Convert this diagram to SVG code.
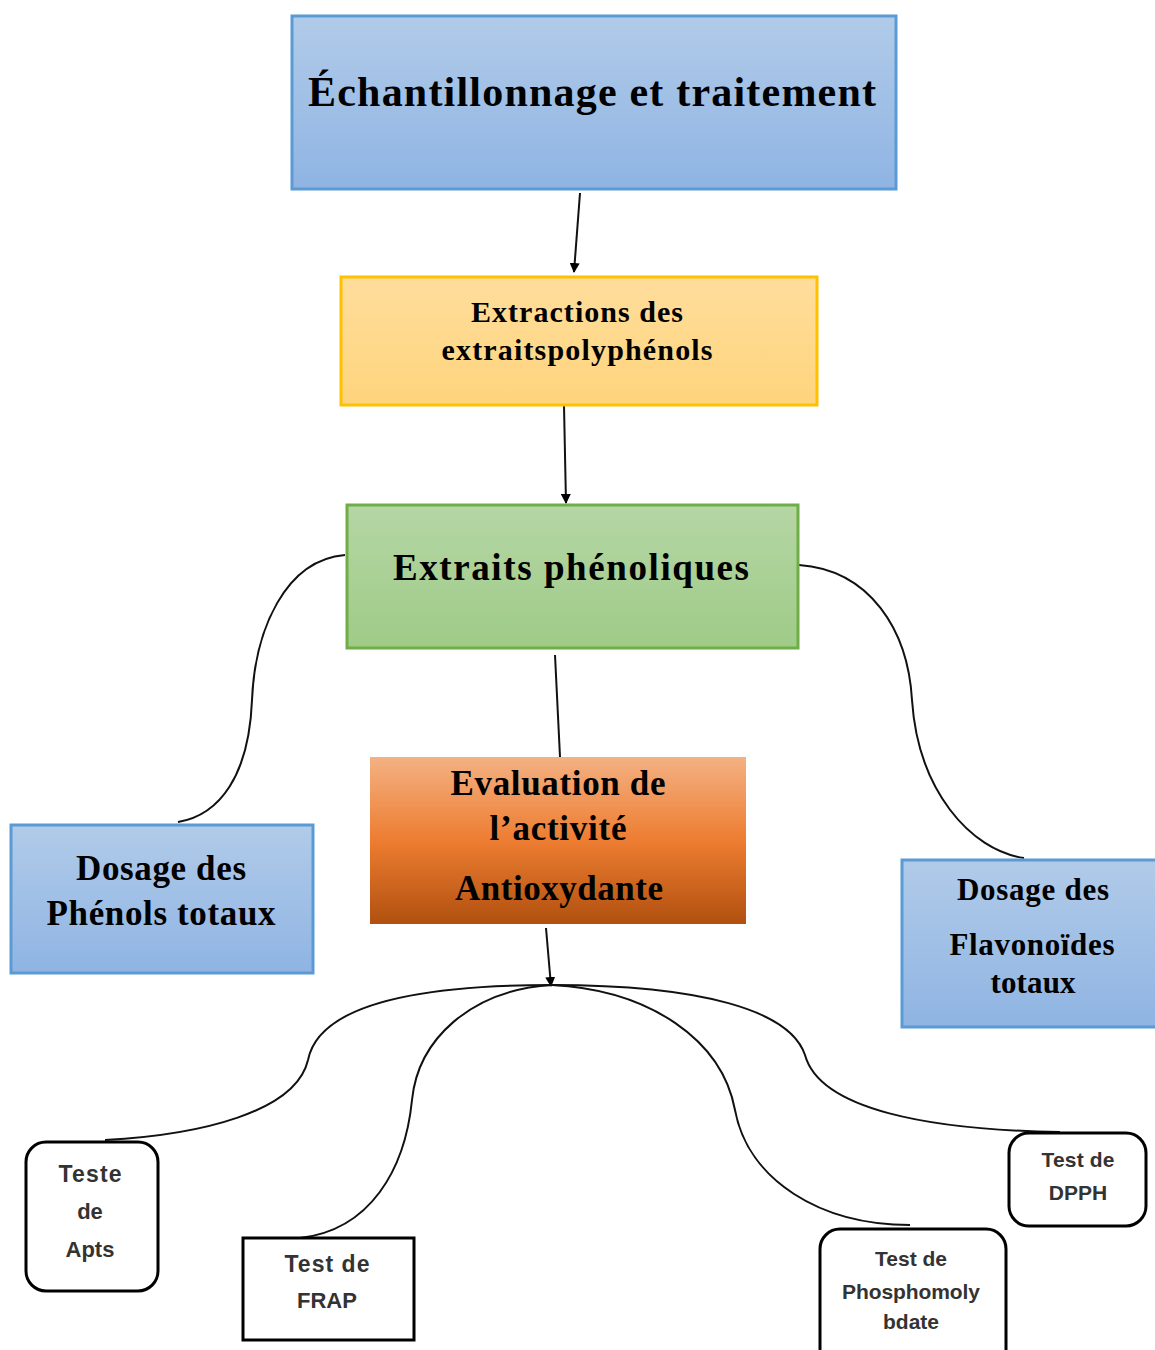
<svg xmlns="http://www.w3.org/2000/svg" width="1155" height="1350" viewBox="0 0 1155 1350">
<defs>
<linearGradient id="gBlue" x1="0" y1="0" x2="0" y2="1"><stop offset="0" stop-color="#b1cbe9"/><stop offset="1" stop-color="#8fb4e3"/></linearGradient>
<linearGradient id="gYellow" x1="0" y1="0" x2="0" y2="1"><stop offset="0" stop-color="#ffdd9c"/><stop offset="1" stop-color="#fed47c"/></linearGradient>
<linearGradient id="gGreen" x1="0" y1="0" x2="0" y2="1"><stop offset="0" stop-color="#b5d6a5"/><stop offset="1" stop-color="#9fcb87"/></linearGradient>
<linearGradient id="gOrange" x1="0" y1="0" x2="0" y2="1"><stop offset="0" stop-color="#f4b183"/><stop offset="0.5" stop-color="#ed7d31"/><stop offset="1" stop-color="#b1500f"/></linearGradient>
<marker id="arr" viewBox="0 0 10 10" refX="9" refY="5" markerWidth="5" markerHeight="5" orient="auto"><path d="M0,0 L10,5 L0,10 z" fill="#000"/></marker>
</defs>
<style>
.t{font-family:"Liberation Serif","Times New Roman",serif;font-weight:bold;fill:#000;text-anchor:middle}
.s{font-family:"Liberation Sans",Arial,sans-serif;font-weight:bold;fill:#333;text-anchor:middle;font-size:21px}
.c{fill:none;stroke:#111;stroke-width:2}
.bx{fill:#fff;stroke:#000;stroke-width:3}
</style>
<g id="connectors">
<path class="c" d="M580,193 L574,272" marker-end="url(#arr)"/>
<path class="c" d="M564,406 L566,503" marker-end="url(#arr)"/>
<path class="c" d="M555,655 L560,757"/>
<path class="c" d="M546,928 L551,986" marker-end="url(#arr)"/>
<path class="c" d="M345,555 C 285,560 255,630 252,700 C 249,775 220,815 178,822"/>
<path class="c" d="M799,565 C 870,570 908,630 912,700 C 918,790 970,850 1024,858"/>
<path class="c" d="M552,985 C 400,985 318,1010 308,1060 C 296,1112 200,1135 105,1140"/>
<path class="c" d="M552,985 C 470,990 418,1040 412,1100 C 405,1170 370,1230 300,1238"/>
<path class="c" d="M552,985 C 650,990 722,1040 735,1110 C 748,1180 820,1225 910,1225"/>
<path class="c" d="M552,985 C 700,985 790,1010 805,1055 C 820,1110 930,1130 1060,1132"/>
</g>
<g id="n1">
<rect x="292" y="16" width="604" height="173" fill="url(#gBlue)" stroke="#5b9bd5" stroke-width="3"/>
<text class="t" x="592" y="106" font-size="42" textLength="568" lengthAdjust="spacing">Échantillonnage et traitement</text>
</g>
<g id="n2">
<rect x="341" y="277" width="476" height="128" fill="url(#gYellow)" stroke="#ffc000" stroke-width="3"/>
<text class="t" x="577" y="322" font-size="30" textLength="212" lengthAdjust="spacing">Extractions des</text>
<text class="t" x="577" y="360" font-size="30" textLength="271" lengthAdjust="spacing">extraitspolyphénols</text>
</g>
<g id="n3">
<rect x="347" y="505" width="451" height="143" fill="url(#gGreen)" stroke="#70ad47" stroke-width="3"/>
<text class="t" x="571" y="580" font-size="37" textLength="356" lengthAdjust="spacing">Extraits phénoliques</text>
</g>
<g id="n4">
<rect x="370" y="757" width="376" height="167" fill="url(#gOrange)"/>
<text class="t" x="558" y="795" font-size="35" textLength="215" lengthAdjust="spacing">Evaluation de</text>
<text class="t" x="558" y="840" font-size="35" textLength="137" lengthAdjust="spacing">l’activité</text>
<text class="t" x="559" y="900" font-size="35" textLength="208" lengthAdjust="spacing">Antioxydante</text>
</g>
<g id="n5">
<rect x="11" y="825" width="302" height="148" fill="url(#gBlue)" stroke="#5b9bd5" stroke-width="3"/>
<text class="t" x="161" y="880" font-size="35" textLength="170" lengthAdjust="spacing">Dosage des</text>
<text class="t" x="161" y="925" font-size="35" textLength="229" lengthAdjust="spacing">Phénols totaux</text>
</g>
<g id="n6">
<rect x="902" y="860" width="256" height="167" fill="url(#gBlue)" stroke="#5b9bd5" stroke-width="3"/>
<text class="t" x="1033" y="900" font-size="31" textLength="152" lengthAdjust="spacing">Dosage des</text>
<text class="t" x="1032" y="955" font-size="31" textLength="165" lengthAdjust="spacing">Flavonoïdes</text>
<text class="t" x="1033" y="993" font-size="31" textLength="85" lengthAdjust="spacing">totaux</text>
</g>
<g id="n7">
<rect class="bx" x="26" y="1142" width="132" height="149" rx="20"/>
<text class="s" x="90" y="1182" style="font-size:23px" textLength="63" lengthAdjust="spacing">Teste</text>
<text class="s" x="90" y="1219" style="font-size:22px">de</text>
<text class="s" x="90" y="1257" style="font-size:22px">Apts</text>
</g>
<g id="n8">
<rect class="bx" x="243" y="1238" width="171" height="102"/>
<text class="s" x="327" y="1272" style="font-size:23px" textLength="85" lengthAdjust="spacing">Test de</text>
<text class="s" x="327" y="1308" style="font-size:22px">FRAP</text>
</g>
<g id="n9">
<rect class="bx" x="820" y="1229" width="186" height="140" rx="20"/>
<text class="s" x="911" y="1266">Test de</text>
<text class="s" x="911" y="1299" textLength="138" lengthAdjust="spacing">Phosphomoly</text>
<text class="s" x="911" y="1329">bdate</text>
</g>
<g id="n10">
<rect class="bx" x="1009" y="1133" width="137" height="93" rx="20"/>
<text class="s" x="1078" y="1167" textLength="73" lengthAdjust="spacing">Test de</text>
<text class="s" x="1078" y="1200">DPPH</text>
</g>
</svg>
